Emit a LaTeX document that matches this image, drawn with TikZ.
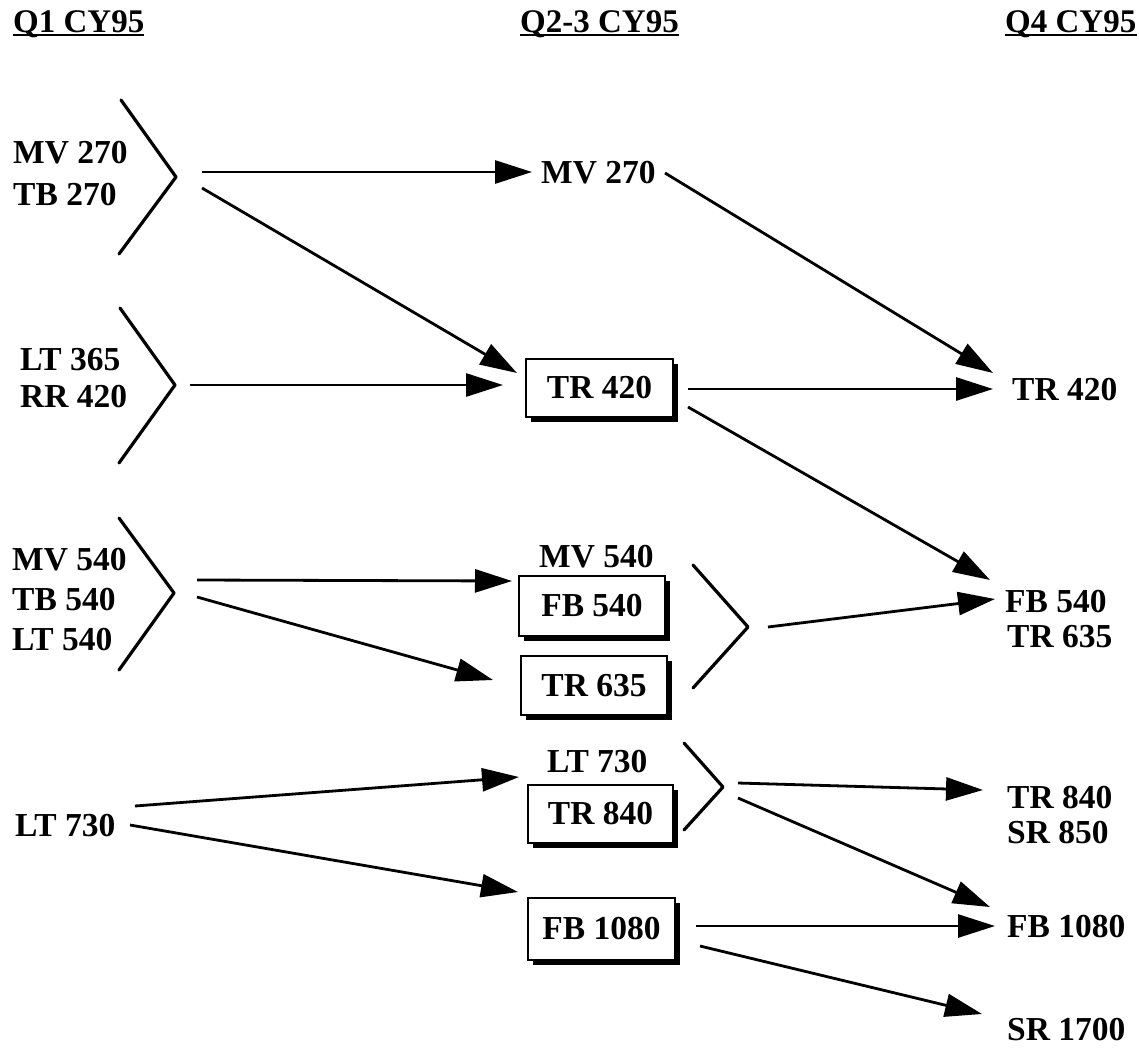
\documentclass[tikz,border=0pt]{standalone}
\usepackage{fontspec}
\setmainfont{Liberation Serif}
\usetikzlibrary{arrows.meta,shadows}
\begin{document}
\begin{tikzpicture}[x=1pt,y=-1pt,
  lbl/.style={font=\bfseries\fontsize{33.5}{36}\selectfont, inner sep=0pt, anchor=base west},
  hdr/.style={font=\bfseries\fontsize{33}{36}\selectfont, inner sep=0pt, anchor=base west},
  chev/.style={line width=3.2pt, line join=round, line cap=round},
  arr/.style={line width=2.8pt, -{Triangle[length=37pt,width=23pt]}},
  boxnode/.style={draw, line width=2.2pt, fill=white, inner sep=0pt,
    font=\bfseries\fontsize{33.5}{36}\selectfont,
    drop shadow={shadow xshift=5pt, shadow yshift=-5pt, opacity=1, fill=black}},
  uline/.style={line width=2.2pt}
]
\useasboundingbox (0,0) rectangle (1139,1047);

% headers
\node[hdr] (h1) at (13,32) {Q1 CY95};
\node[hdr] (h2) at (520,32) {Q2-3 CY95};
\node[hdr] (h3) at (1005,32) {Q4 CY95};
\foreach \h in {h1,h2,h3}{
  \draw[uline] ([yshift=-3pt]\h.base west) -- ([yshift=-3pt]\h.base east);
}

% left column labels
\node[lbl] (mv270) at (13,163) {MV 270};
\node[lbl] (tb270) at (13,205) {TB 270};
\node[lbl] (lt365) at (20,370) {LT 365};
\node[lbl] (rr420) at (20,407) {RR 420};
\node[lbl] (mv540) at (12,570) {MV 540};
\node[lbl] (tb540) at (12,610) {TB 540};
\node[lbl] (lt540) at (12,650) {LT 540};
\node[lbl] (lt730) at (15,836) {LT 730};

% left chevrons
\draw[chev] (121,100) -- (176,177) -- (119,254);
\draw[chev] (120,308) -- (175,385) -- (119,463);
\draw[chev] (119,518) -- (174,593) -- (119,670);

% middle column
\node[lbl] (mmv270) at (541,183) {MV 270};
\node[boxnode, minimum width=147pt, minimum height=58pt] (tr420) at (599.5,388) {TR 420};
\node[lbl] (mmv540) at (539,567) {MV 540};
\node[boxnode, minimum width=146pt, minimum height=60pt] (fb540) at (592,606) {FB 540};
\node[boxnode, minimum width=146pt, minimum height=59pt] (tr635) at (594,685.5) {TR 635};
\node[lbl] (mlt730) at (547,772) {LT 730};
\node[boxnode, minimum width=145pt, minimum height=58pt] (tr840) at (600.5,814) {TR 840};
\node[boxnode, minimum width=147pt, minimum height=62pt] (fb1080) at (601.5,929) {FB 1080};

% middle chevrons
\draw[chev] (693,565) -- (748,627) -- (693,688);
\draw[chev] (684,743) -- (723,787) -- (684,830);

% right column
\node[lbl] (rtr420) at (1012,400) {TR 420};
\node[lbl] (rfb540) at (1005,612) {FB 540};
\node[lbl] (rtr635) at (1007,647) {TR 635};
\node[lbl] (rtr840) at (1007,808) {TR 840};
\node[lbl] (rsr850) at (1007,843) {SR 850};
\node[lbl] (rfb1080) at (1007,937) {FB 1080};
\node[lbl] (rsr1700) at (1007,1040) {SR 1700};

% connector end points
\coordinate (a1s) at (202,172);
\coordinate (a1e) at (532,172);
\coordinate (a2s) at (202,188);
\coordinate (a2e) at (517,373);
\coordinate (a3s) at (190,385);
\coordinate (a3e) at (503,385);
\coordinate (a4s) at (665,173);
\coordinate (a4e) at (993,373);
\coordinate (a5s) at (688,389);
\coordinate (a5e) at (993,389);
\coordinate (a6s) at (688,407);
\coordinate (a6e) at (990,580);
\coordinate (a7s) at (197,580);
\coordinate (a7e) at (512,581);
\coordinate (a8s) at (197,597);
\coordinate (a8e) at (493,680);
\coordinate (a9s) at (768,627);
\coordinate (a9e) at (995,599);
\coordinate (b1s) at (135,806);
\coordinate (b1e) at (519,777);
\coordinate (b2s) at (130,825);
\coordinate (b2e) at (518,892);
\coordinate (b3s) at (738,783);
\coordinate (b3e) at (983,790);
\coordinate (b4s) at (738,798);
\coordinate (b4e) at (990,907);
\coordinate (b5s) at (696,926);
\coordinate (b5e) at (995,926);
\coordinate (b6s) at (700,946);
\coordinate (b6e) at (982,1014);

\foreach \a in {a1,a2,a3,a4,a5,a6,a7,a8,a9,b1,b2,b3,b4,b5,b6}{
  \draw[arr] (\a s) -- (\a e);
}
\end{tikzpicture}
\end{document}
